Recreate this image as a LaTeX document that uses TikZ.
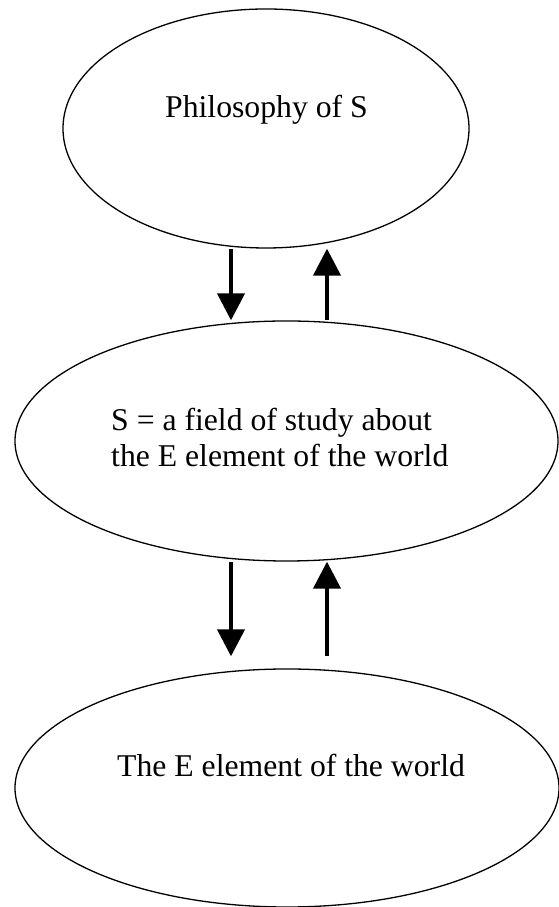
\documentclass[tikz,border=0pt]{standalone}
\usepackage{fontspec}
\setmainfont{Liberation Serif}
\usetikzlibrary{shapes.geometric,arrows.meta}
\tikzset{
  ell/.style={draw=black, line width=1.3pt, ellipse, inner sep=0pt},
  lbl/.style={inner sep=0pt, font=\fontsize{31.7pt}{36pt}\selectfont},
  arr/.style={line width=4.2pt, -{Triangle[length=27pt,width=27pt]}}
}
\begin{document}
\begin{tikzpicture}[x=1pt,y=1pt]
\useasboundingbox (0,0) rectangle (559,907);
% ellipses
\node[ell, minimum width=406pt, minimum height=239pt] (top) at (266,778.5) {};
\node[ell, minimum width=543pt, minimum height=240pt] (mid) at (286.5,466) {};
\node[ell, minimum width=544pt, minimum height=238pt] (bot) at (287,119) {};
% texts
\node[lbl, anchor=base west] (ttop) at (165,789) {Philosophy of S};
\node[lbl, anchor=base west] (tmid) at (111,476) {\begin{tabular}[t]{@{}l@{}}S = a field of study about\\the E element of the world\end{tabular}};
\node[lbl, anchor=base west] (tbot) at (117,130) {The E element of the world};
% arrows
\draw[arr] ([xshift=-35pt]top.south) -- ([xshift=-55.5pt]mid.north);
\draw[arr] ([xshift=40.5pt]mid.north) -- ([xshift=61pt]top.south);
\draw[arr] ([xshift=-55.5pt]mid.south) -- ([xshift=-56pt,yshift=12pt]bot.north);
\draw[arr] ([xshift=40pt,yshift=12pt]bot.north) -- ([xshift=40.5pt]mid.south);
\end{tikzpicture}
\end{document}
